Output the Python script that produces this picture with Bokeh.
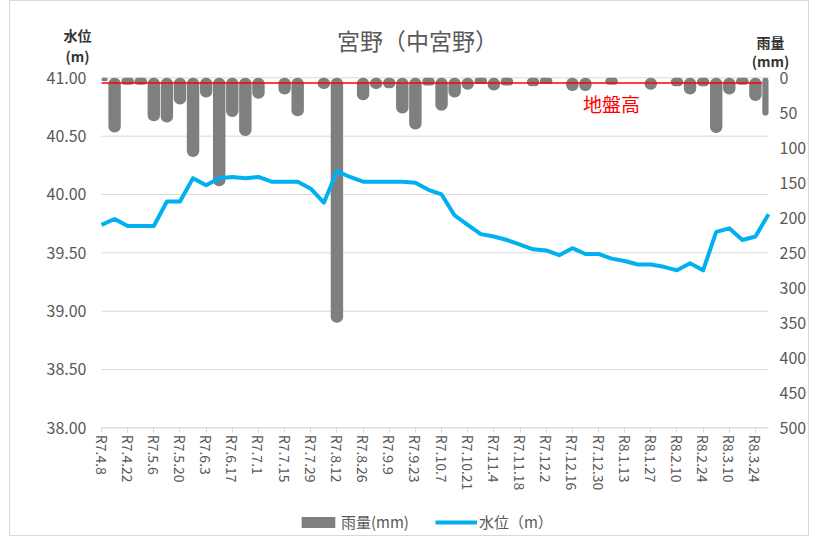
import math
from bokeh.plotting import figure
from bokeh.models import (Range1d, LinearAxis, FixedTicker, Label, Legend, LegendItem,
                          NumeralTickFormatter, ColumnDataSource)
from bokeh.embed import file_html
from bokeh.resources import INLINE

# ---- data ----
dates = ["R7.4.8", "R7.4.15", "R7.4.22", "R7.4.29", "R7.5.6", "R7.5.13", "R7.5.20", "R7.5.27",
         "R7.6.3", "R7.6.10", "R7.6.17", "R7.6.24", "R7.7.1", "R7.7.8", "R7.7.15", "R7.7.22",
         "R7.7.29", "R7.8.5", "R7.8.12", "R7.8.19", "R7.8.26", "R7.9.2", "R7.9.9", "R7.9.16",
         "R7.9.23", "R7.9.30", "R7.10.7", "R7.10.14", "R7.10.21", "R7.10.28", "R7.11.4", "R7.11.11",
         "R7.11.18", "R7.11.25", "R7.12.2", "R7.12.9", "R7.12.16", "R7.12.23", "R7.12.30", "R8.1.6",
         "R8.1.13", "R8.1.20", "R8.1.27", "R8.2.3", "R8.2.10", "R8.2.17", "R8.2.24", "R8.3.3",
         "R8.3.10", "R8.3.17", "R8.3.24", "R8.3.31"]

rain_mm = [5, 78, 10, 10, 62, 64, 38, 113, 28, 155, 56, 83, 30, 0, 24, 55, 0, 16, 350, 0,
           32, 16, 15, 51, 74, 11, 47, 28, 17, 9, 18, 11, 0, 12, 9, 0, 19, 19, 0, 10,
           0, 0, 17, 0, 12, 24, 12, 79, 24, 10, 33, 54]

water_level = [39.74, 39.79, 39.73, 39.73, 39.73, 39.94, 39.94, 40.14, 40.08, 40.14, 40.15, 40.14,
               40.15, 40.11, 40.11, 40.11, 40.05, 39.93, 40.20, 40.15, 40.11, 40.11, 40.11, 40.11,
               40.10, 40.04, 40.00, 39.82, 39.74, 39.66, 39.64, 39.61, 39.57, 39.53, 39.52, 39.48,
               39.54, 39.49, 39.49, 39.45, 39.43, 39.40, 39.40, 39.38, 39.35, 39.41, 39.35, 39.68,
               39.71, 39.61, 39.64, 39.83]

ground_level = 40.955
level_ticks = [38.0, 38.5, 39.0, 39.5, 40.0, 40.5, 41.0]
rain_ticks = [0, 50, 100, 150, 200, 250, 300, 350, 400, 450, 500]

title_text = "宮野（中宮野）"
left_header = ["水位", "(m)"]
right_header = ["雨量", "(mm)"]
series_names = ["雨量(mm)", "水位（m）"]
ground_text = "地盤高"

# ---- layout: the frame fills the whole figure; axes are pinned inside it ----
X_VIEW = (-6.958, 54.21)        # category-index range across the whole figure
LEVEL_VIEW = (37.060, 41.654)   # water-level range across the whole figure height
RAIN_VIEW = (656.7, -109.0)     # rain range (reversed) across the whole figure height
BAR_W = 0.95

JP = "Noto Sans CJK JP"
GRAY_TXT = "#595959"
HEAD_TXT = "#333333"
GRID = "#d9d9d9"

idx = list(range(len(dates)))
x0, x1 = idx[0], idx[-1]
bar_left = [max(i - BAR_W / 2, x0) for i in idx]
bar_right = [min(i + BAR_W / 2, x1) for i in idx]
src = ColumnDataSource(dict(x=idx, rain=rain_mm, level=water_level, left=bar_left, right=bar_right))

p = figure(width=800, height=536, output_backend="svg", toolbar_location=None,
           x_range=Range1d(*X_VIEW), y_range=Range1d(*LEVEL_VIEW), min_border=0)
p.title.visible = False
p.extra_y_ranges = {"rain": Range1d(*RAIN_VIEW)}
p.outline_line_color = None
p.background_fill_color = "white"
p.border_fill_color = "white"
p.styles = {"border": "1px solid #d9d9d9", "margin-left": "9px"}
p.xgrid.visible = False
p.ygrid.visible = False

# horizontal grid lines across the category span
p.segment(x0=[x0] * len(level_ticks), x1=[x1] * len(level_ticks), y0=level_ticks, y1=level_ticks,
          line_color=GRID, line_width=1)

# left axis pinned at the first category
ya = p.yaxis[0]
ya.fixed_location = x0
ya.ticker = FixedTicker(ticks=level_ticks)
ya.formatter = NumeralTickFormatter(format="0.00")
ya.axis_line_color = None
ya.major_tick_line_color = None
ya.minor_tick_line_color = None
ya.major_label_text_font = JP
ya.major_label_text_font_size = "16px"
ya.major_label_text_color = GRAY_TXT
ya.major_label_standoff = 9

# right axis pinned at the last category
ra = LinearAxis(y_range_name="rain", ticker=FixedTicker(ticks=rain_ticks), fixed_location=x1)
ra.axis_line_color = None
ra.major_tick_line_color = None
ra.minor_tick_line_color = None
ra.major_label_text_font = JP
ra.major_label_text_font_size = "16px"
ra.major_label_text_color = GRAY_TXT
ra.major_label_standoff = 5
p.add_layout(ra, "right")

# x axis pinned at the bottom of the level scale
xa = p.xaxis[0]
xa.fixed_location = level_ticks[0]
xa.bounds = (x0, x1)
shown = idx[::2]
xa.ticker = FixedTicker(ticks=shown)
xa.major_label_overrides = {i: dates[i] for i in shown}
xa.major_label_orientation = -math.pi / 2
xa.axis_line_color = GRID
xa.major_tick_line_color = GRID
xa.major_tick_in = 0
xa.major_tick_out = 5
xa.minor_tick_line_color = None
xa.major_label_text_font = JP
xa.major_label_text_font_size = "14px"
xa.major_label_text_color = GRAY_TXT
xa.major_label_standoff = 2

# bars (rain, hanging from the top), clipped to the category span
bars = p.quad(left="left", right="right", top=0, bottom="rain", source=src, y_range_name="rain",
              fill_color="#7f7f7f", line_color=None, border_radius=6)

# ground level line
p.line([x0, x1 - 0.5], [ground_level, ground_level], line_color="#ff0000", line_width=1.5)

# water level line
wl = p.line(x="x", y="level", source=src, line_color="#00b0f0", line_width=4, line_join="round")

# texts
p.add_layout(Label(x=39, y=40.78, text=ground_text, text_color="#ff0000", text_font=JP,
                   text_font_size="19px", text_align="center", text_baseline="middle"))
p.add_layout(Label(x=24.16, y=41.32, text=title_text, text_color=GRAY_TXT, text_font=JP,
                   text_font_size="23px", text_align="center", text_baseline="middle"))
for t, yy in zip(left_header, [41.371, 41.191]):
    p.add_layout(Label(x=-1.835, y=yy, text=t, text_color=HEAD_TXT, text_font=JP,
                       text_font_size="14px", text_font_style="bold",
                       text_align="center", text_baseline="middle"))
for t, yy in zip(right_header, [41.303, 41.148]):
    p.add_layout(Label(x=51.15, y=yy, text=t, text_color=HEAD_TXT, text_font=JP,
                       text_font_size="14px", text_font_style="bold",
                       text_align="center", text_baseline="middle"))

legend = Legend(items=[LegendItem(label=series_names[0], renderers=[bars]),
                       LegendItem(label=series_names[1], renderers=[wl])],
                location=(287, 5), orientation="horizontal",
                glyph_width=42, glyph_height=14, label_text_font=JP, label_text_font_size="15px",
                label_text_color=GRAY_TXT, border_line_color=None, background_fill_alpha=0,
                padding=0, margin=0, spacing=26, label_standoff=2)
p.add_layout(legend, "center")

open("out.html", "w").write(file_html(p, INLINE))
